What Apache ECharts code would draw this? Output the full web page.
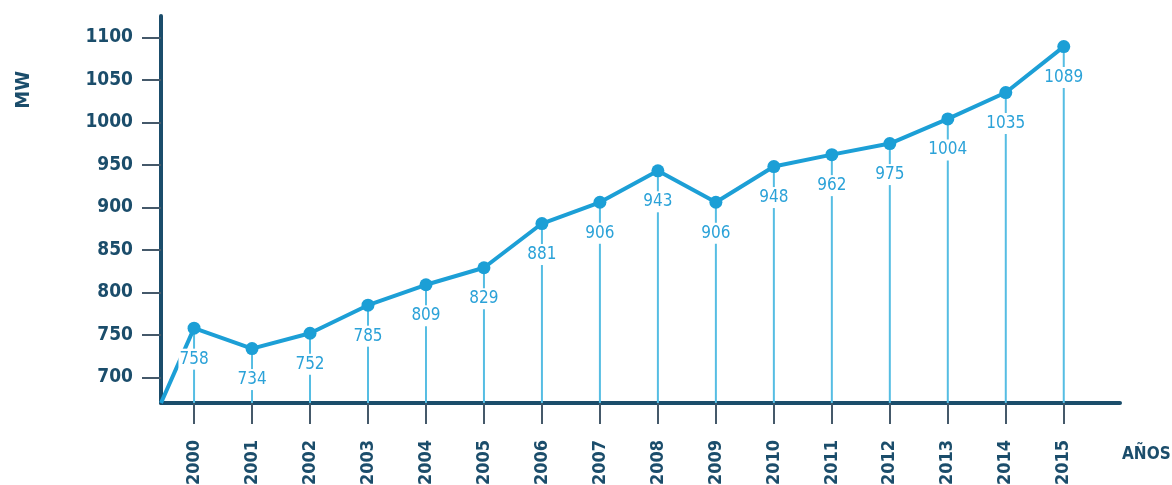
<!DOCTYPE html>
<html>
<head>
<meta charset="utf-8">
<script src="https://cdn.jsdelivr.net/npm/echarts@6/dist/echarts.min.js"></script>
<style>
  html, body { margin: 0; padding: 0; background: #ffffff; }
  #chart { width: 1172px; height: 485px; }
</style>
</head>
<body>
<div id="chart"></div>
<script>
// Installed capacity per year (MW)
const years = ['2000', '2001', '2002', '2003', '2004', '2005', '2006', '2007',
               '2008', '2009', '2010', '2011', '2012', '2013', '2014', '2015'];
const capacityMW = [758, 734, 752, 785, 809, 829, 881, 906,
                    943, 906, 948, 962, 975, 1004, 1035, 1089];

// Value axis tick labels
const yTickMin = 700;
const yTickMax = 1100;
const yTickStep = 50;

// Axis extents of the plotting area
const X_MIN = 1999.43;
const X_MAX = 2015.97;
const Y_MIN = 670;
const Y_MAX = 1125;

const FONT = "'DejaVu Sans Condensed', 'DejaVu Sans', sans-serif";
const NAVY = '#1b4d6b';
const TICK = '#45596a';
const LINE = '#1c9fd6';
const DROP = '#55bde3';
const LABEL = '#2ba2d8';

// Plot geometry (pixels)
const PLOT_LEFT = 161, PLOT_TOP = 16, PLOT_W = 959, PLOT_H = 387;
const bandW = PLOT_W / (X_MAX - X_MIN);
const catLeft = PLOT_LEFT + (+years[0] - X_MIN) * bandW - bandW / 2;
const pxPerUnit = PLOT_H / (Y_MAX - Y_MIN);
const tickTop = PLOT_TOP + (Y_MAX - yTickMax) * pxPerUnit;
const tickH = (yTickMax - yTickMin) * pxPerUnit;

const numericYears = years.map(Number);
const lineData = [{ value: [X_MIN, Y_MIN], symbol: 'none', label: { show: false } }]
  .concat(numericYears.map((y, i) => [y, capacityMW[i]]));

const chart = echarts.init(document.getElementById('chart'), null, { renderer: 'canvas' });

chart.setOption({
  animation: false,
  backgroundColor: '#ffffff',
  grid: [
    // main plotting area with the two axis lines
    { left: PLOT_LEFT, top: PLOT_TOP, width: PLOT_W, height: PLOT_H, outerBoundsMode: 'none' },
    // value-axis ticks and labels
    { left: PLOT_LEFT, top: tickTop, width: PLOT_W, height: tickH, outerBoundsMode: 'none' },
    // year ticks and labels
    { left: catLeft, top: PLOT_TOP, width: bandW * years.length, height: PLOT_H, outerBoundsMode: 'none' }
  ],
  xAxis: [
    {
      gridIndex: 0, type: 'value', min: X_MIN, max: X_MAX,
      axisLine: { show: true, lineStyle: { color: NAVY, width: 4 } },
      axisTick: { show: false }, axisLabel: { show: false }, splitLine: { show: false }
    },
    {
      gridIndex: 1, type: 'value', min: X_MIN, max: X_MAX, show: false
    },
    {
      gridIndex: 2, type: 'category', data: years, boundaryGap: true,
      axisLine: { show: false },
      axisTick: { show: true, alignWithLabel: true, length: 21, lineStyle: { color: TICK, width: 2 } },
      axisLabel: {
        rotate: 90, margin: 37, color: NAVY, fontFamily: FONT,
        fontWeight: 'bold', fontSize: 18
      },
      splitLine: { show: false }
    }
  ],
  yAxis: [
    {
      gridIndex: 0, type: 'value', min: Y_MIN, max: Y_MAX,
      axisLine: { show: true, lineStyle: { color: NAVY, width: 4 } },
      axisTick: { show: false }, axisLabel: { show: false }, splitLine: { show: false }
    },
    {
      gridIndex: 1, type: 'value', min: yTickMin, max: yTickMax, interval: yTickStep,
      axisLine: { show: false },
      axisTick: { show: true, length: 19, lineStyle: { color: TICK, width: 2 } },
      axisLabel: {
        margin: 28, color: NAVY, fontFamily: FONT, fontWeight: 'bold', fontSize: 19,
        formatter: function (v) { return String(v); }
      },
      splitLine: { show: false }
    },
    {
      gridIndex: 2, type: 'value', min: Y_MIN, max: Y_MAX, show: false
    }
  ],
  graphic: [
    {
      type: 'text', left: 14, top: 71, rotation: Math.PI / 2,
      style: { text: 'MW', fill: NAVY, font: "bold 20px " + FONT }
    },
    {
      type: 'text', left: 1122, top: 446,
      style: { text: 'AÑOS', fill: NAVY, font: "bold 17px " + FONT }
    }
  ],
  series: [
    {
      // drop lines from each point to the horizontal axis
      type: 'custom',
      xAxisIndex: 0, yAxisIndex: 0, z: 1,
      data: numericYears.map((y, i) => [y, capacityMW[i]]),
      renderItem: function (params, api) {
        const top = api.coord([api.value(0), api.value(1)]);
        const bottom = api.coord([api.value(0), Y_MIN]);
        return {
          type: 'line',
          shape: { x1: top[0], y1: top[1], x2: bottom[0], y2: bottom[1] },
          style: { stroke: DROP, lineWidth: 2 }
        };
      }
    },
    {
      type: 'line',
      xAxisIndex: 0, yAxisIndex: 0, z: 3,
      data: lineData,
      symbol: 'circle', symbolSize: 13,
      lineStyle: { color: LINE, width: 4 },
      itemStyle: { color: LINE },
      label: {
        show: true, position: 'bottom', distance: 14,
        color: LABEL, fontFamily: FONT, fontSize: 17,
        backgroundColor: '#ffffff', padding: [2, 1, 2, 1],
        formatter: function (p) { return p.value[1]; }
      },
      emphasis: { disabled: true }
    }
  ]
});
</script>
</body>
</html>
